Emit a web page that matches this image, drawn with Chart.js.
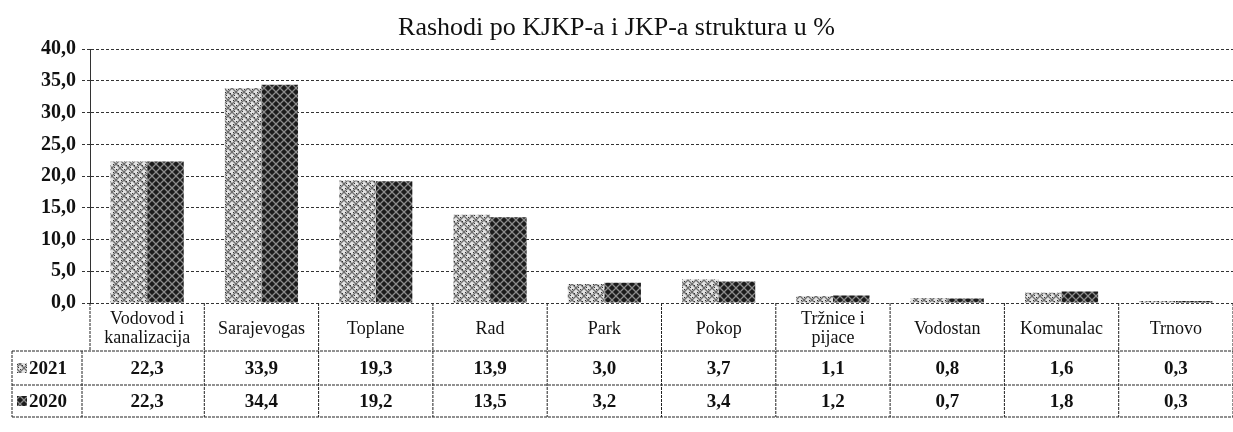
<!DOCTYPE html>
<html>
<head>
<meta charset="utf-8">
<script src="https://cdn.jsdelivr.net/npm/chart.js@4"></script>
<style>
  html, body { margin: 0; padding: 0; background: #fff; }
  #wrap { width: 1233px; height: 432px; position: relative; }
</style>
</head>
<body>
<div id="wrap"><canvas id="myChart"></canvas></div>
<script>
const categories = [
  ['Vodovod i', 'kanalizacija'], ['Sarajevogas'], ['Toplane'], ['Rad'], ['Park'],
  ['Pokop'], ['Tržnice i', 'pijace'], ['Vodostan'], ['Komunalac'], ['Trnovo']
];
const values2021 = [22.3, 33.9, 19.3, 13.9, 3.0, 3.7, 1.1, 0.8, 1.6, 0.3];
const values2020 = [22.3, 34.4, 19.2, 13.5, 3.2, 3.4, 1.2, 0.7, 1.8, 0.3];
const seriesNames = ['2021', '2020'];
const titleText = 'Rashodi po KJKP-a i JKP-a struktura u %';

const serif = '"Liberation Serif", "DejaVu Serif", serif';

// hatch patterns that mimic the scanned fills
function makePattern(bg, fg, dots) {
  const c = document.createElement('canvas');
  c.width = 8; c.height = 8;
  const g = c.getContext('2d');
  g.fillStyle = bg;
  g.fillRect(0, 0, 8, 8);
  g.strokeStyle = fg;
  g.lineWidth = 1.3;
  g.beginPath();
  g.moveTo(0, 0); g.lineTo(8, 8);
  g.moveTo(8, 0); g.lineTo(0, 8);
  g.stroke();
  if (dots) {
    g.fillStyle = dots;
    g.fillRect(4, 1, 1, 1);
    g.fillRect(1, 4, 1, 1);
    g.fillRect(6, 5, 1, 1);
    g.fillRect(2, 7, 1, 1);
  }
  return g.createPattern(c, 'repeat');
}
const light = makePattern('#e2e2e2', '#6e6e6e', '#333');
const dark = makePattern('#1c1c1c', '#8c8c8c', null);

function fmt(v) { return v.toFixed(1).replace('.', ','); }

const tablePlugin = {
  id: 'dataTable',
  afterDraw(chart) {
    const ctx = chart.ctx;
    const x = chart.scales.x;
    const top = chart.chartArea.bottom;
    const rows = [top, top + 48, top + 82, top + 114];
    const half = (x.getPixelForValue(1) - x.getPixelForValue(0)) / 2;
    const left = x.getPixelForValue(0) - half;
    const right = x.getPixelForValue(categories.length - 1) + half;
    ctx.save();
    ctx.strokeStyle = '#222';
    ctx.lineWidth = 1;
    ctx.setLineDash([3, 1]);
    ctx.beginPath();
    ctx.moveTo(12, rows[1]); ctx.lineTo(right, rows[1]);
    ctx.moveTo(12, rows[2]); ctx.lineTo(right, rows[2]);
    ctx.moveTo(12, rows[3]); ctx.lineTo(right, rows[3]);
    ctx.moveTo(12, rows[1]); ctx.lineTo(12, rows[3]);
    ctx.moveTo(left - 8, rows[1]); ctx.lineTo(left - 8, rows[3]);
    ctx.moveTo(left, rows[0]); ctx.lineTo(left, rows[1]);
    for (let i = 1; i <= categories.length; i++) {
      const px = x.getPixelForValue(i) - half;
      ctx.moveTo(px, rows[0]); ctx.lineTo(px, rows[3]);
    }
    ctx.stroke();
    ctx.setLineDash([]);

    ctx.fillStyle = '#111';
    ctx.textAlign = 'center';
    ctx.textBaseline = 'middle';
    categories.forEach((lines, i) => {
      const cx = x.getPixelForValue(i);
      ctx.font = '18px ' + serif;
      const mid = (rows[0] + rows[1]) / 2 + 2;
      lines.forEach((t, k) => {
        ctx.fillText(t, cx, mid + (k - (lines.length - 1) / 2) * 19);
      });
      ctx.font = 'bold 19px ' + serif;
      ctx.fillText(fmt(values2021[i]), cx, (rows[1] + rows[2]) / 2 + 1);
      ctx.fillText(fmt(values2020[i]), cx, (rows[2] + rows[3]) / 2 + 1);
    });
    [light, dark].forEach((pat, k) => {
      const cy = (rows[1 + k] + rows[2 + k]) / 2;
      ctx.fillStyle = pat;
      ctx.fillRect(17, cy - 5, 10, 10);
      ctx.fillStyle = '#111';
      ctx.textAlign = 'left';
      ctx.font = 'bold 19px ' + serif;
      ctx.fillText(seriesNames[k], 29, cy + 1);
    });
    ctx.restore();
  }
};

new Chart(document.getElementById('myChart'), {
  type: 'bar',
  data: {
    labels: categories.map(c => c.join(' ')),
    datasets: [
      { label: seriesNames[0], data: values2021, backgroundColor: light, borderWidth: 0 },
      { label: seriesNames[1], data: values2020, backgroundColor: dark, borderWidth: 0 }
    ]
  },
  options: {
    responsive: true,
    maintainAspectRatio: false,
    animation: false,
    layout: { padding: { left: 0, right: 0, top: 0, bottom: 121 } },
    datasets: { bar: { categoryPercentage: 0.64, barPercentage: 1.0 } },
    plugins: {
      legend: { display: false },
      tooltip: { enabled: false },
      title: {
        display: true,
        text: titleText,
        color: '#111',
        font: { family: serif, size: 26, weight: 'normal' },
        padding: { top: 13, bottom: 5 }
      }
    },
    scales: {
      x: {
        ticks: { display: false },
        grid: { display: false },
        border: { display: false }
      },
      y: {
        min: 0,
        max: 40,
        ticks: {
          stepSize: 5,
          color: '#111',
          font: { family: serif, size: 20, weight: 'bold' },
          padding: 6,
          callback: v => fmt(v)
        },
        grid: {
          color: '#333',
          lineWidth: 1,
          tickLength: 8,
          tickBorderDash: [3, 2]
        },
        border: { display: true, color: '#333', dash: [3, 2] },
        afterFit(scale) { scale.width = 90; }
      }
    }
  },
  plugins: [tablePlugin]
});
</script>
</body>
</html>
